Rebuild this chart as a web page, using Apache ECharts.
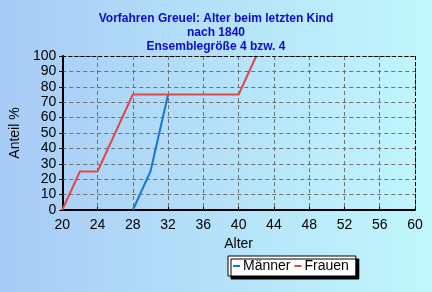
<!DOCTYPE html>
<html><head><meta charset="utf-8">
<script src="https://cdn.jsdelivr.net/npm/echarts@6/dist/echarts.min.js"></script>
<style>html,body{margin:0;padding:0;}#c{width:432px;height:292px;}</style>
</head><body><div id="c"></div>
<script>
const titleLines = ['Vorfahren Greuel: Alter beim letzten Kind', 'nach 1840', 'Ensemblegröße 4 bzw. 4'];
const seriesNames = ['Männer', 'Frauen'];
const maennerAge = [28, 30, 32];
const maennerShare = [0, 25, 75];
const frauenAge = [20, 22, 24, 28, 40, 42];
const frauenShare = [0, 25, 25, 75, 75, 100];
const xTicks = [20, 24, 28, 32, 36, 40, 44, 48, 52, 56, 60];
const yTicks = [0, 10, 20, 30, 40, 50, 60, 70, 80, 90, 100];

const chart = echarts.init(document.getElementById('c'), null, {renderer: 'canvas'});
const font = 'Arial, "Liberation Sans", sans-serif';
chart.setOption({
  animation: false,
  backgroundColor: {type: 'linear', x: 0, y: 0, x2: 1, y2: 0,
    colorStops: [{offset: 0, color: '#a8cbf6'}, {offset: 1, color: '#c1f7fc'}]},
  title: {
    text: titleLines.join('\n'), left: 'center', top: 7,
    textStyle: {color: '#0a0ad0', fontFamily: font, fontWeight: 'bold', fontSize: 12, lineHeight: 14}
  },
  grid: {left: 61, right: 17, top: 56, bottom: 82, show: true, borderColor: '#000', borderWidth: 0, backgroundColor: 'transparent'},
  legend: {
    data: seriesNames, left: 228, top: 256, itemWidth: 7, itemHeight: 2, itemGap: 4,
    icon: 'rect',
    padding: [3, 7, 3, 5],
    backgroundColor: '#fff', borderColor: '#000', borderWidth: 1,
    shadowColor: '#000', shadowBlur: 0.01, shadowOffsetX: 3, shadowOffsetY: 3,
    textStyle: {fontFamily: font, fontSize: 14, color: '#000', padding: [0, 0, 0, -2]}
  },
  xAxis: {
    type: 'value', min: 20, max: 60, interval: 4,
    name: 'Alter', nameLocation: 'middle', nameGap: 24,
    nameTextStyle: {fontFamily: font, fontSize: 14, color: '#000'},
    axisLine: {show: true, onZero: false, lineStyle: {color: '#000', width: 2}},
    axisTick: {show: true, length: 3, inside: true, lineStyle: {color: '#000'}},
    axisLabel: {fontFamily: font, fontSize: 14, color: '#000', margin: 8},
    splitLine: {show: true, lineStyle: {color: '#707070', type: [4, 3], width: 1}}
  },
  yAxis: {
    type: 'value', min: 0, max: 100, interval: 10,
    name: 'Anteil %', nameLocation: 'middle', nameGap: 36, nameRotate: 90,
    nameTextStyle: {fontFamily: font, fontSize: 14, color: '#000'},
    axisLine: {show: true, onZero: false, lineStyle: {color: '#000', width: 2}},
    axisTick: {show: true, length: 3, lineStyle: {color: '#000'}},
    axisLabel: {fontFamily: font, fontSize: 14, color: '#000', margin: 6},
    splitLine: {show: true, lineStyle: {color: '#707070', type: [4, 3], width: 1}}
  },
  series: [
    {name: seriesNames[0], type: 'line', data: maennerAge.map((a, i) => [a, maennerShare[i]]),
      showSymbol: false, symbol: 'none', color: '#1478d8', lineStyle: {width: 2, color: '#1478d8'}, z: 2},
    {name: seriesNames[1], type: 'line', data: frauenAge.map((a, i) => [a, frauenShare[i]]),
      showSymbol: false, symbol: 'none', color: '#e04848', lineStyle: {width: 2, color: '#e04848'}, z: 3,
      markLine: {silent: true, symbol: 'none', label: {show: false},
        lineStyle: {color: '#000', type: [4, 2], width: 1},
        data: [{yAxis: 100}, {xAxis: 60}]}}
  ]
});
</script></body></html>
